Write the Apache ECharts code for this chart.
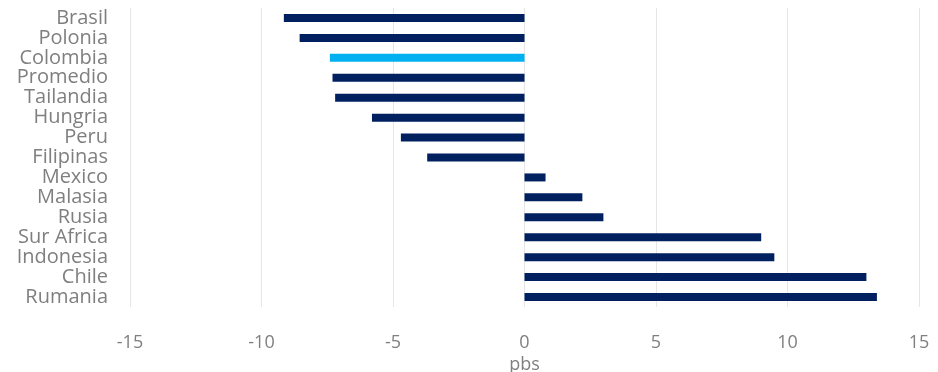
<!DOCTYPE html>
<html><head><meta charset="utf-8">
<script src="https://cdn.jsdelivr.net/npm/echarts@6/dist/echarts.min.js"></script>
<style>html,body{margin:0;padding:0;background:#fff}#c{width:938px;height:372px}</style>
</head><body><div id="c"></div>
<script>
const categories = ["Brasil","Polonia","Colombia","Promedio","Tailandia","Hungria","Peru","Filipinas","Mexico","Malasia","Rusia","Sur Africa","Indonesia","Chile","Rumania"];
const values = [-9.15,-8.55,-7.4,-7.3,-7.2,-5.8,-4.7,-3.7,0.8,2.2,3.0,9.0,9.5,13.0,13.4];
const highlight = "Colombia";
const xTicks = [-15,-10,-5,0,5,10,15];
const axisName = "pbs";

const chart = echarts.init(document.getElementById('c'));
const font = '"Open Sans", sans-serif';
chart.setOption({
  animation:false,
  grid:{left:130,right:19,top:8,bottom:65,containLabel:false,outerBoundsMode:'none'},
  xAxis:{type:'value',min:xTicks[0],max:xTicks[xTicks.length-1],interval:5,
    name:axisName,nameLocation:'middle',nameGap:49,nameMoveOverlap:false,
    nameTextStyle:{color:'#7f7f7f',fontSize:18,fontFamily:font},
    axisLabel:{color:'#7f7f7f',fontSize:18,fontFamily:font,margin:27},
    axisLine:{show:false},axisTick:{show:false},
    splitLine:{show:true,lineStyle:{color:'#e6e6e6',width:1}}},
  yAxis:{type:'category',data:categories,inverse:true,
    axisLabel:{color:'#7f7f7f',fontSize:20,fontFamily:font,margin:22,lineHeight:20,interval:0},
    axisLine:{show:false},axisTick:{show:false},splitLine:{show:false}},
  series:[{type:'bar',barWidth:8,
    data:values.map((v,i)=>({value:v,itemStyle:{color:categories[i]===highlight?'#00b0f0':'#002060'}}))}]
});
</script></body></html>
